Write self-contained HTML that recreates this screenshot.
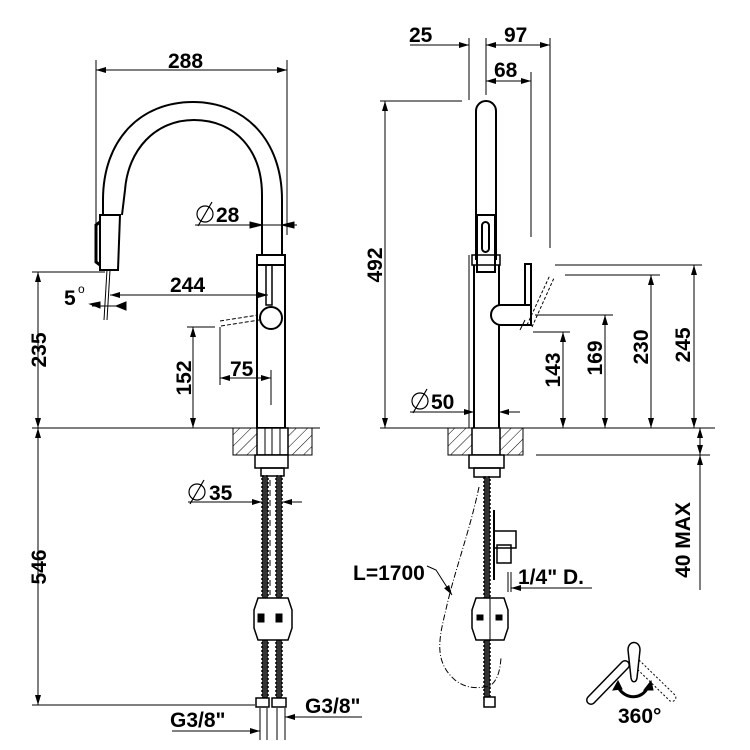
<!DOCTYPE html>
<html><head><meta charset="utf-8"><style>
body{margin:0;background:#fff}
svg{display:block}
text{font-family:"Liberation Sans",Arial,sans-serif;font-weight:bold;font-size:21px;fill:#000}
</style></head><body>
<svg width="750" height="750" viewBox="0 0 750 750" xmlns="http://www.w3.org/2000/svg">
<defs>
<marker id="a" viewBox="0 0 10 6" refX="10" refY="3" markerWidth="12" markerHeight="6" orient="auto-start-reverse" markerUnits="userSpaceOnUse"><path d="M0,0L10,3L0,6z" fill="#000"/></marker>
<pattern id="h" width="8" height="8" patternUnits="userSpaceOnUse" patternTransform="rotate(45)"><line x1="0" y1="0" x2="0" y2="8" stroke="#000" stroke-width="1"/></pattern>
</defs>
<g stroke="#000" fill="none" stroke-width="1">
<!-- LEFT VIEW -->
<line x1="96" y1="60" x2="96" y2="230"/><line x1="287" y1="60" x2="287" y2="235"/>
<line x1="96" y1="70" x2="287" y2="70" marker-start="url(#a)" marker-end="url(#a)"/>
<path d="M103,215 L103,200 C103,140 140,102 193,102 C245,102 282,140 282,200 L282,255" stroke-width="2"/>
<path d="M122,215 L125,190 C128,150 155,120 194,120 C235,120 262,150 262,195 L262,255" stroke-width="2"/>
<path d="M100,215 L120,215 L118,270 L100,270 Z" stroke-width="2"/>
<path d="M100,222 L96,225 L96,262 L100,265" stroke-width="3"/>
<line x1="107" y1="270" x2="104" y2="320"/><line x1="110" y1="270" x2="107" y2="320"/>
<rect x="257" y="255" width="28" height="173" stroke-width="2"/>
<line x1="257" y1="265" x2="285" y2="265" stroke-width="2"/>
<rect x="266" y="265" width="6" height="40" stroke-width="1.5"/>
<circle cx="271" cy="318" r="11" fill="#fff" stroke-width="2"/>
<path d="M220,321 L258,315 M221,326 L259,320" stroke-dasharray="4,2"/>
<line x1="195" y1="225" x2="297" y2="225"/>
<path d="M262,225l-12,-3v6z M282,225l12,-3v6z" fill="#000"/>
<line x1="110" y1="295" x2="268" y2="295" marker-start="url(#a)" marker-end="url(#a)"/>
<line x1="92" y1="306" x2="125" y2="306"/>
<path d="M90,304l10,4l0,-6z M126,302l-10,4l10,4z" fill="#000"/>
<line x1="32" y1="272" x2="105" y2="272"/>
<line x1="38" y1="272" x2="38" y2="428" marker-start="url(#a)" marker-end="url(#a)"/>
<line x1="187" y1="327" x2="215" y2="327"/>
<line x1="193" y1="327" x2="193" y2="428" marker-start="url(#a)" marker-end="url(#a)"/>
<line x1="220" y1="327" x2="220" y2="385"/><line x1="271" y1="370" x2="271" y2="405"/>
<line x1="220" y1="378" x2="271" y2="378" marker-start="url(#a)" marker-end="url(#a)"/>
<line x1="32" y1="428" x2="320" y2="428"/>
<rect x="233" y="428" width="79" height="27" fill="url(#h)"/>
<rect x="257" y="428" width="31" height="27" fill="#fff" stroke-width="1.5"/>
<line x1="265" y1="428" x2="265" y2="455"/><line x1="272" y1="428" x2="272" y2="455"/><line x1="280" y1="428" x2="280" y2="455"/>
<rect x="255" y="455" width="33" height="13" fill="#fff" stroke-width="1.5"/>
<rect x="261" y="468" width="23" height="8" stroke-width="1.5"/>
<rect x="262" y="476" width="6" height="222" fill="#333" stroke-dasharray="2,2" stroke-width="1.5"/>
<rect x="276" y="476" width="6" height="222" fill="#333" stroke-dasharray="2,2" stroke-width="1.5"/>
<line x1="270" y1="480" x2="270" y2="595" stroke-dasharray="6,4"/>
<path d="M258,598 L288,598 L292,610 L292,628 L288,640 L258,640 L254,628 L254,610 Z" fill="#fff" stroke-width="1.5"/>
<rect x="258" y="614" width="6" height="8" fill="#000"/><rect x="276" y="614" width="6" height="8" fill="#000"/>
<rect x="256" y="698" width="13" height="9" fill="#fff" stroke-width="1.5"/><rect x="272" y="698" width="14" height="9" fill="#fff" stroke-width="1.5"/>
<line x1="188" y1="502" x2="262" y2="502" marker-end="url(#a)"/><line x1="282" y1="502" x2="302" y2="502" marker-start="url(#a)"/>
<line x1="32" y1="705" x2="255" y2="705"/>
<line x1="38" y1="428" x2="38" y2="705" marker-start="url(#a)" marker-end="url(#a)"/>
<line x1="260" y1="708" x2="260" y2="740"/><line x1="267" y1="708" x2="267" y2="740"/><line x1="277" y1="708" x2="277" y2="740"/><line x1="285" y1="708" x2="285" y2="740"/>
<line x1="172" y1="731" x2="260" y2="731" marker-end="url(#a)"/>
<line x1="285" y1="717" x2="362" y2="717" marker-start="url(#a)"/>
<!-- RIGHT VIEW -->
<line x1="469" y1="38" x2="469" y2="100"/><line x1="486" y1="38" x2="486" y2="95"/>
<line x1="550" y1="38" x2="550" y2="248"/><line x1="531" y1="72" x2="531" y2="237"/>
<line x1="410" y1="45" x2="469" y2="45" marker-end="url(#a)"/>
<line x1="486" y1="45" x2="550" y2="45" marker-start="url(#a)" marker-end="url(#a)"/>
<line x1="486" y1="81" x2="531" y2="81" marker-start="url(#a)" marker-end="url(#a)"/>
<line x1="380" y1="101" x2="462" y2="101"/>
<line x1="385" y1="101" x2="385" y2="428" marker-start="url(#a)" marker-end="url(#a)"/>
<path d="M476,260 L476,111 A10,10 0 0 1 496,111 L496,260" stroke-width="2"/>
<rect x="477" y="215" width="18" height="57" stroke-width="2"/>
<rect x="482" y="222" width="7" height="30" rx="3.5" stroke-width="2"/>
<rect x="472" y="255" width="28" height="10" stroke-width="1.5"/>
<line x1="469" y1="255" x2="469" y2="428"/>
<line x1="474" y1="265" x2="474" y2="428" stroke-width="2"/>
<line x1="499" y1="265" x2="499" y2="428" stroke-width="2"/>
<rect x="525" y="264" width="6" height="61" stroke-width="2"/>
<path d="M531,305 L501,305 A10,10 0 0 0 501,325 L531,325 Z" fill="#fff" stroke-width="2"/>
<path d="M527,325 L550,275 M532,327 L554,278" stroke-dasharray="3,2"/>
<line x1="520" y1="330" x2="525" y2="320"/>
<line x1="555" y1="265" x2="702" y2="265"/>
<line x1="565" y1="275" x2="660" y2="275"/>
<line x1="535" y1="315" x2="613" y2="315"/>
<line x1="533" y1="332" x2="570" y2="332"/>
<line x1="694" y1="265" x2="694" y2="428" marker-start="url(#a)" marker-end="url(#a)"/>
<line x1="651" y1="275" x2="651" y2="428" marker-start="url(#a)" marker-end="url(#a)"/>
<line x1="605" y1="315" x2="605" y2="428" marker-start="url(#a)" marker-end="url(#a)"/>
<line x1="563" y1="332" x2="563" y2="428" marker-start="url(#a)" marker-end="url(#a)"/>
<line x1="410" y1="412" x2="474" y2="412" marker-end="url(#a)"/><line x1="499" y1="412" x2="520" y2="412" marker-start="url(#a)"/>
<line x1="380" y1="428" x2="715" y2="428"/>
<rect x="448" y="428" width="75" height="27" fill="url(#h)"/>
<rect x="472" y="428" width="28" height="27" fill="#fff" stroke-width="1.5"/>
<rect x="469" y="455" width="35" height="13" fill="#fff" stroke-width="1.5"/>
<rect x="474" y="468" width="26" height="9" stroke-width="1.5"/>
<rect x="484" y="477" width="6" height="221" fill="#333" stroke-dasharray="2,2" stroke-width="1.5"/>
<path d="M476,598 L504,598 L508,610 L508,628 L504,640 L476,640 L472,628 L472,610 Z" fill="#fff" stroke-width="1.5"/>
<line x1="490" y1="598" x2="490" y2="640"/>
<rect x="477" y="615" width="6" height="5" fill="#000"/><rect x="496" y="615" width="6" height="5" fill="#000"/>
<rect x="484" y="697" width="11" height="10" fill="#fff" stroke-width="1.5"/>
<rect x="494" y="531" width="22" height="17" stroke-width="1.5"/>
<rect x="497" y="545" width="14" height="18" stroke-width="1.5"/>
<line x1="494" y1="510" x2="494" y2="580" stroke-width="2"/>
<line x1="508" y1="572" x2="508" y2="592"/><line x1="511" y1="572" x2="511" y2="592"/>
<line x1="592" y1="588" x2="511" y2="588" marker-end="url(#a)"/>
<line x1="536" y1="455" x2="710" y2="455"/>
<line x1="700" y1="428" x2="700" y2="455" marker-start="url(#a)" marker-end="url(#a)"/>
<line x1="700" y1="455" x2="700" y2="590" marker-start="url(#a)"/>
<path d="M479,487 C470,530 455,570 447,605 C440,635 432,660 455,680 C468,690 480,688 490,686 C498,680 500,670 501,658" stroke-dasharray="6,2,1,2"/>
<path d="M427,566 L436,570 L452,595" marker-end="url(#a)"/>
<path d="M588,697 L622,662 A4,4 0 0 1 628,668 L594,703 A4,4 0 0 1 588,697 Z" stroke-width="1.5"/>
<path d="M639,660 L675,695 A4,4 0 0 1 670,701 L634,666" stroke-dasharray="2,2"/>
<path d="M628,650 C628,640 640,640 640,650 L637,678 C636,683 632,683 631,678 Z" fill="#fff" stroke-width="1.5"/>
<path d="M618,687 C625,700 642,700 648,687" stroke-width="3"/>
<path d="M613,690l5,-9l4,8z M644,690l7,-9l2,9z" fill="#000"/>
<!-- diameter symbols -->
<g stroke-width="1.2">
<circle cx="205" cy="214" r="8"/><line x1="198" y1="226" x2="212" y2="202"/>
<circle cx="420" cy="401" r="8"/><line x1="413" y1="413" x2="427" y2="389"/>
<circle cx="197" cy="492" r="8"/><line x1="190" y1="504" x2="204" y2="480"/>
</g>
</g>
<text x="168" y="68">288</text>
<text x="216" y="222">28</text>
<text x="170" y="292">244</text>
<text x="64" y="305">5</text><text x="78" y="293" style="font-size:12px;font-weight:normal">o</text>
<text x="230" y="376">75</text>
<text x="431" y="409">50</text>
<text x="209" y="500">35</text>
<text x="170" y="727">G3/8"</text>
<text x="305" y="713">G3/8"</text>
<text x="409" y="42">25</text>
<text x="504" y="42">97</text>
<text x="494" y="77">68</text>
<text x="353" y="580">L=1700</text>
<text x="518" y="584">1/4" D.</text>
<text x="618" y="723">360°</text>
<text transform="translate(46,350) rotate(-90)" text-anchor="middle">235</text>
<text transform="translate(191,378) rotate(-90)" text-anchor="middle">152</text>
<text transform="translate(46,567) rotate(-90)" text-anchor="middle">546</text>
<text transform="translate(382,265) rotate(-90)" text-anchor="middle">492</text>
<text transform="translate(560,370) rotate(-90)" text-anchor="middle">143</text>
<text transform="translate(602,358) rotate(-90)" text-anchor="middle">169</text>
<text transform="translate(648,347) rotate(-90)" text-anchor="middle">230</text>
<text transform="translate(690,345) rotate(-90)" text-anchor="middle">245</text>
<text transform="translate(690,540) rotate(-90)" text-anchor="middle">40 MAX</text>
</svg>
</body></html>
